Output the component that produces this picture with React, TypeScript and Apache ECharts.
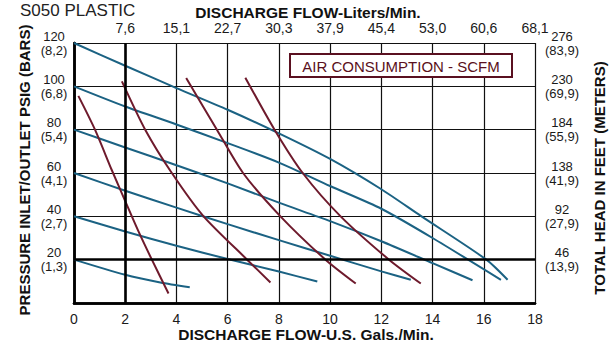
import React, { useEffect, useRef } from "react";
import * as echarts from "echarts";

// ---- data ----
const topLabels = ["", "7,6", "15,1", "22,7", "30,3", "37,9", "45,4", "53,0", "60,6", "68,1"];
const leftPsi = ["20", "40", "60", "80", "100", "120"];
const leftBar = ["(1,3)", "(2,7)", "(4,1)", "(5,4)", "(6,8)", "(8,2)"];
const rightFeet = ["46", "92", "138", "184", "230", "276"];
const rightMeters = ["(13,9)", "(27,9)", "(41,9)", "(55,9)", "(69,9)", "(83,9)"];

// performance curves (GPM, PSI)
const psi120 = [[0, 120], [2, 109.5], [4, 99.2], [6, 89.2], [8, 78.3], [10, 66.5], [12, 52.5], [13.54, 40.2], [16.1, 20], [16.93, 10.7]];
const psi100 = [[0, 100], [2, 90.7], [4, 82.4], [6, 73.8], [8, 64.8], [10, 54], [12, 43.5], [14, 30], [16.67, 10.7]];
const psi80 = [[0, 80], [2, 71.8], [4, 63.6], [6, 55.2], [8, 46.3], [10, 37.8], [12, 28.5], [14, 18.4], [15.56, 10.5]];
const psi60 = [[0, 60], [2, 51.8], [4, 44], [6, 36.4], [8, 29], [10, 21.8], [12, 14.6], [13.15, 10.7]];
const psi40 = [[0, 40], [2, 33], [4, 26.4], [6, 20.3], [8, 14.5], [9.5, 9.9]];
const psi20 = [[0, 20], [2, 13], [3.37, 9.5], [4.52, 7.3]];

// air consumption curves (SCFM)
const scfm2 = [[0.17, 95.6], [0.82, 80], [1.47, 61.5], [2, 47], [2.5, 33.5], [3.04, 20], [3.69, 4.4]];
const scfm5 = [[1.87, 102.3], [2.78, 80], [3.82, 60], [5.06, 40], [6.76, 20], [7.67, 9.5]];
const scfm10 = [[4.38, 103.8], [5.58, 80], [6.6, 60], [8.06, 40], [9.82, 20], [11.0, 9]];
const scfm15 = [[6.69, 104], [7.83, 80], [8.93, 60], [10.41, 40], [12.3, 20], [13.54, 9]];

const scfmLabels = [
  { name: "2", value: [0.29, 107.6] },
  { name: "5", value: [1.53, 107.6] },
  { name: "10", value: [4.46, 109.7] },
  { name: "15", value: [6.6, 109.7] },
];

const BLUE = "#1b6283";
const RED = "#6e1a2c";
const FONT = "'Liberation Sans', Arial, Helvetica, sans-serif";

export default function App() {
  const ref = useRef<HTMLDivElement>(null);
  useEffect(() => {
    document.body.style.margin = "0";
    const chart = echarts.init(ref.current!, null, { renderer: "svg" });
    const curve = (d: number[][], name: string, color: string, z: number) => ({
      type: "line",
      name,
      data: d,
      showSymbol: false,
      smooth: 0.25,
      lineStyle: { color, width: 2 },
      z,
    });
    const series: any[] = [
      {
        ...curve(psi120, "120", BLUE, 3),
        markLine: {
          silent: true,
          symbol: "none",
          label: { show: false },
          lineStyle: { color: "#000", width: 2.6, type: "solid" },
          data: [{ xAxis: 2 }, { yAxis: 20 }],
        },
      },
      curve(psi100, "100", BLUE, 3),
      curve(psi80, "80", BLUE, 3),
      curve(psi60, "60", BLUE, 3),
      curve(psi40, "40", BLUE, 3),
      curve(psi20, "20", BLUE, 3),
      curve(scfm2, "s2", RED, 4),
      curve(scfm5, "s5", RED, 4),
      curve(scfm10, "s10", RED, 4),
      curve(scfm15, "s15", RED, 4),
      {
        type: "scatter",
        data: scfmLabels,
        symbolSize: 1,
        itemStyle: { opacity: 0 },
        label: {
          show: true,
          position: "inside",
          formatter: (p: any) => p.name,
          color: RED,
          fontSize: 14,
          fontWeight: "bold",
          fontFamily: FONT,
        },
        z: 5,
      },
    ];
    const axisLabelBase = { color: "#1a1a1a", fontSize: 14, fontFamily: FONT };
    const pairLabel = {
      color: "#1a1a1a",
      fontSize: 13,
      fontFamily: FONT,
      align: "center",
      lineHeight: 14,
    };
    chart.setOption({
      animation: false,
      backgroundColor: "#ffffff",
      grid: { left: 74, right: 76, top: 43, bottom: 58 },
      xAxis: [
        {
          type: "value",
          min: 0,
          max: 18,
          interval: 2,
          position: "bottom",
          axisLine: { show: true, lineStyle: { color: "#000", width: 2.5 } },
          axisTick: { show: false },
          axisLabel: { ...axisLabelBase, margin: 9 },
          splitLine: { show: true, lineStyle: { color: "#111", width: 1.2 } },
        },
        {
          type: "value",
          min: 0,
          max: 18,
          interval: 2,
          position: "top",
          axisLine: { show: true, lineStyle: { color: "#000", width: 2.5 } },
          axisTick: { show: false },
          axisLabel: {
            ...axisLabelBase,
            margin: 8,
            formatter: (v: number) => topLabels[Math.round(v / 2)] ?? "",
          },
          splitLine: { show: false },
        },
      ],
      yAxis: [
        {
          type: "value",
          min: 0,
          max: 120,
          interval: 20,
          position: "left",
          axisLine: { show: true, lineStyle: { color: "#000", width: 2.5 } },
          axisTick: { show: false },
          axisLabel: {
            ...pairLabel,
            margin: 20,
            formatter: (v: number) => {
              const i = Math.round(v / 20) - 1;
              return i < 0 ? "" : `${leftPsi[i]}\n${leftBar[i]}`;
            },
          },
          splitLine: { show: true, lineStyle: { color: "#111", width: 1.2 } },
        },
        {
          type: "value",
          min: 0,
          max: 120,
          interval: 20,
          position: "right",
          axisLine: { show: true, lineStyle: { color: "#000", width: 2.5 } },
          axisTick: { show: false },
          axisLabel: {
            ...pairLabel,
            margin: 27,
            formatter: (v: number) => {
              const i = Math.round(v / 20) - 1;
              return i < 0 ? "" : `${rightFeet[i]}\n${rightMeters[i]}`;
            },
          },
          splitLine: { show: false },
        },
      ],
      graphic: [
        {
          type: "text",
          left: 20,
          top: 2,
          style: { text: "S050 PLASTIC", fontSize: 17, fontFamily: FONT, fill: "#222" },
        },
        {
          type: "text",
          x: 308,
          y: 12,
          style: {
            text: "DISCHARGE FLOW-Liters/Min.",
            fontSize: 15.5,
            fontWeight: "bold",
            fontFamily: FONT,
            fill: "#111",
            align: "center",
            verticalAlign: "middle",
          },
        },
        {
          type: "text",
          x: 306,
          y: 334,
          style: {
            text: "DISCHARGE FLOW-U.S. Gals./Min.",
            fontSize: 15.5,
            fontWeight: "bold",
            fontFamily: FONT,
            fill: "#111",
            align: "center",
            verticalAlign: "middle",
          },
        },
        {
          type: "text",
          x: 24,
          y: 170,
          rotation: Math.PI / 2,
          style: {
            text: "PRESSURE INLET/OUTLET PSIG (BARS)",
            fontSize: 15,
            fontWeight: "bold",
            fontFamily: FONT,
            fill: "#111",
            align: "center",
            verticalAlign: "middle",
          },
        },
        {
          type: "text",
          x: 599,
          y: 178,
          rotation: Math.PI / 2,
          style: {
            text: "TOTAL HEAD IN FEET (METERS)",
            fontSize: 15,
            fontWeight: "bold",
            fontFamily: FONT,
            fill: "#111",
            align: "center",
            verticalAlign: "middle",
          },
        },
        {
          type: "rect",
          shape: { x: 290, y: 54, width: 222, height: 23 },
          style: { fill: "#ffffff", stroke: "#5a1020", lineWidth: 2 },
          z: 10,
        },
        {
          type: "text",
          x: 401,
          y: 66,
          z: 11,
          style: {
            text: "AIR CONSUMPTION - SCFM",
            fontSize: 15,
            fontFamily: FONT,
            fill: "#5a1020",
            align: "center",
            verticalAlign: "middle",
          },
        },
      ],
      series,
    });
    return () => chart.dispose();
  }, []);
  return (
    <div
      ref={ref}
      style={{ position: "fixed", left: 0, top: 0, width: 611, height: 361 }}
    />
  );
}
